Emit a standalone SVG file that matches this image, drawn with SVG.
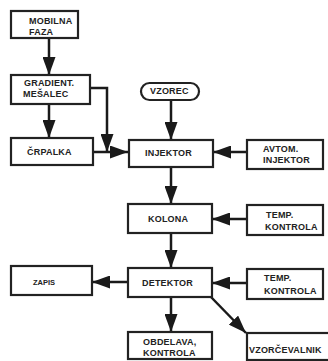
<svg xmlns="http://www.w3.org/2000/svg" width="328" height="361" viewBox="0 0 328 361">
<defs>
<marker id="ah" markerWidth="18" markerHeight="13" refX="18" refY="6.5" orient="auto" markerUnits="userSpaceOnUse">
<path d="M0,0 L18,6.5 L0,13 Z" fill="#1a1a1a"/>
</marker>
</defs>
<style>
.box{fill:#fff;stroke:#222;stroke-width:2.2}
.t{font-family:"Liberation Sans",Arial,sans-serif;font-weight:bold;font-size:9px;fill:#222;letter-spacing:0.2px}
.c{fill:none;stroke:#1a1a1a;stroke-width:2.5;marker-end:url(#ah)}
</style>
<rect width="328" height="361" fill="#fff"/>
<g id="connectors">
<path class="c" d="M49,38 V75"/>
<path class="c" d="M49,104 V138"/>
<path class="c" d="M90,88 H107 V152"/>
<path class="c" d="M93,152 H128"/>
<path class="c" d="M171,100 V140"/>
<path class="c" d="M247,152 H213"/>
<path class="c" d="M171,167 V204"/>
<path class="c" d="M247,219 H212"/>
<path class="c" d="M171,233 V268"/>
<path class="c" d="M247,283 H212"/>
<path class="c" d="M128,282 H92"/>
<path class="c" d="M171,297 V332"/>
<path class="c" d="M210,296 L246,333"/>
</g>
<g id="mobilna">
<rect class="box" x="11" y="11" width="67" height="27"/>
<text class="t" x="29" y="24">MOBILNA</text>
<text class="t" x="29" y="35">FAZA</text>
</g>
<g id="gradient">
<rect class="box" x="11" y="75" width="79" height="29"/>
<text class="t" x="24" y="86">GRADIENT.</text>
<text class="t" x="23" y="97">MEŠALEC</text>
</g>
<g id="crpalka">
<rect class="box" x="11" y="138" width="82" height="27"/>
<text class="t" x="27" y="155">ČRPALKA</text>
</g>
<g id="vzorec">
<rect class="box" x="141" y="83" width="58" height="17" rx="8.5" ry="8.5"/>
<text class="t" x="150" y="94">VZOREC</text>
</g>
<g id="injektor">
<rect class="box" x="129" y="140" width="84" height="27"/>
<text class="t" x="145" y="156">INJEKTOR</text>
</g>
<g id="avtom">
<rect class="box" x="247" y="140" width="76" height="29"/>
<text class="t" x="263" y="152">AVTOM.</text>
<text class="t" x="263" y="163">INJEKTOR</text>
</g>
<g id="kolona">
<rect class="box" x="128" y="204" width="84" height="29"/>
<text class="t" x="148" y="222">KOLONA</text>
</g>
<g id="temp1">
<rect class="box" x="247" y="205" width="76" height="30"/>
<text class="t" x="266" y="218">TEMP.</text>
<text class="t" x="265" y="230">KONTROLA</text>
</g>
<g id="detektor">
<rect class="box" x="128" y="268" width="84" height="29"/>
<text class="t" x="142" y="286">DETEKTOR</text>
</g>
<g id="temp2">
<rect class="box" x="247" y="269" width="76" height="30"/>
<text class="t" x="264" y="281">TEMP.</text>
<text class="t" x="264" y="294">KONTROLA</text>
</g>
<g id="zapis">
<rect class="box" x="11" y="266" width="81" height="29"/>
<text class="t" x="33" y="285" style="font-size:7.5px;letter-spacing:0">ZAPIS</text>
</g>
<g id="obdelava">
<rect class="box" x="128" y="332" width="84" height="27"/>
<text class="t" x="143" y="345">OBDELAVA,</text>
<text class="t" x="143" y="356">KONTROLA</text>
</g>
<g id="vzorcevalnik">
<rect class="box" x="247" y="333" width="84" height="27"/>
<text class="t" x="249" y="353">VZORČEVALNIK</text>
</g>
</svg>
